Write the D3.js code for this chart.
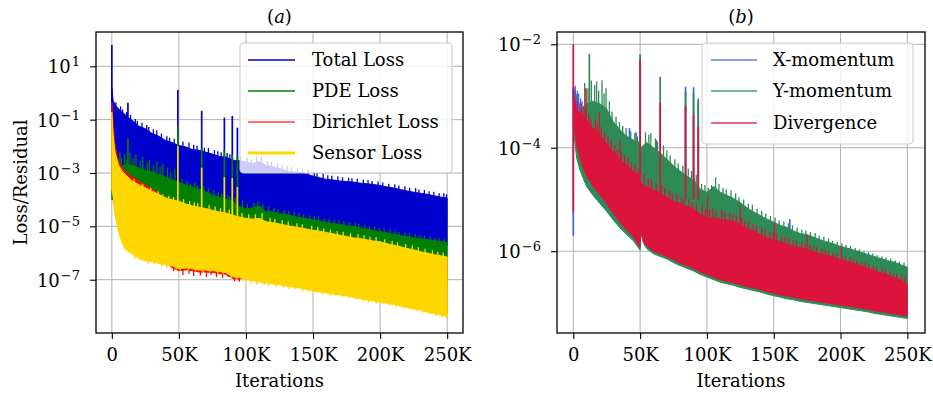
<!DOCTYPE html>
<html>
<head>
<meta charset="utf-8">
<script src="https://cdn.jsdelivr.net/npm/d3@7"></script>
<style>
  body { margin: 0; background: #fff; }
  svg { display: block; }
</style>
</head>
<body>
<svg id="chart" width="933" height="396"></svg>
<script>
// ---------------------------------------------------------------
// Training history. Iterations are in thousands; every loss value
// is stored as log10(value). Each series is described by the upper
// and lower edge of its noisy band, the short excursions along the
// band edge ("hair": [iter, value]) and isolated spikes [iter, peak, base].
// ---------------------------------------------------------------

// (a) loss terms
const ITER_A = [0,1,2.5,5,7.5,10,15,20,25,30,35,40,45,50,55,60,65,70,75,80,85,90,95,100,
  105,110,115,120,125,130,135,140,145,150,155,160,165,170,175,180,185,190,195,200,
  205,210,215,220,225,230,235,240,245,250];

const totalLossHi = [0.2,-0.3,-0.45,-0.6,-0.7,-0.82,
  -1.02,-1.24,-1.34,-1.52,-1.62,-1.78,-1.86,-1.97,
  -2.02,-2.12,-2.15,-2.22,-2.29,-2.38,-2.4,-2.52,-2.54,-2.59,
  -2.64,-2.58,-2.72,-2.76,-2.84,-2.92,-2.96,-2.99,-3.04,-3.12,
  -3.18,-3.24,-3.26,-3.3,-3.32,-3.34,-3.38,-3.4,-3.43,-3.47,
  -3.52,-3.56,-3.62,-3.67,-3.72,-3.76,-3.8,-3.85,-3.9,-3.94];
const totalLossLo = [-3.4,-3.4,-3.2,-3.0,-2.9,-2.85,
  -2.85,-2.95,-3.05,-3.1,-3.2,-3.3,-3.4,-3.5,
  -3.55,-3.62,-3.7,-3.8,-3.92,-4.0,-4.08,-4.17,-4.35,-4.45,
  -4.4,-4.33,-4.55,-4.56,-4.62,-4.65,-4.72,-4.77,-4.8,-4.86,
  -4.9,-4.96,-5.0,-5.02,-5.08,-5.1,-5.16,-5.2,-5.25,-5.3,
  -5.34,-5.4,-5.44,-5.48,-5.53,-5.56,-5.6,-5.64,-5.67,-5.7];
const totalLossHair = [[3,-0.35],[6.5,-0.5],[8,-0.62],[11,-0.72],[14,-0.82],[17.5,-0.98],[19,-1.05],
  [22.5,-1.12],[26,-1.2],[27.5,-1.28],[31,-1.36],[33.5,-1.4],[37,-1.52],[41,-1.62],[43,-1.68],
  [46.5,-1.72],[53,-1.82],[57.5,-1.86],[61,-1.95],[63.5,-1.98],[69,-2.05],[72,-2.06],[76.5,-2.14],
  [79,-2.18],[81.5,-2.22],[86,-2.25],[88,-2.3],[96,-2.38],[101,-2.44],[104,-2.48],[108,-2.4],
  [111.5,-2.38],[116,-2.55],[119,-2.58],[123.5,-2.62],[127,-2.7],[131,-2.74],[134,-2.78],
  [138.5,-2.82],[142,-2.86],[146.5,-2.88],[151,-2.95],[153,-3.0],[157.5,-3.02],[161,-3.08],
  [164,-3.1],[168.5,-3.12],[172,-3.16],[176.5,-3.18],[179,-3.2],[183,-3.22],[187.5,-3.24],
  [191,-3.26],[194,-3.3],[198.5,-3.32],[202,-3.36],[206.5,-3.4],[211,-3.42],[214,-3.47],
  [218.5,-3.5],[222,-3.55],[226.5,-3.57],[229,-3.62],[233,-3.64],[236.5,-3.68],[240,-3.7],
  [244,-3.76],[247.5,-3.76],[249.5,-3.8]];
const totalLossSpikes = [[0,1.8,-1],[12,-0.37,-1.5],[49.2,0.11,-2.5],[67,-0.67,-2.5],
  [83.9,-0.92,-3],[89.8,-0.86,-3],[93.6,-1.3,-3]];

const pdeLossHi = [-3.3,-3.2,-3.0,-2.9,-2.75,-2.7,
  -2.7,-2.8,-2.9,-2.95,-3.05,-3.15,-3.25,-3.35,
  -3.45,-3.52,-3.6,-3.7,-3.82,-3.9,-3.98,-4.07,-4.25,-4.35,
  -4.3,-4.23,-4.45,-4.46,-4.52,-4.55,-4.62,-4.67,-4.7,-4.76,
  -4.8,-4.86,-4.9,-4.92,-4.98,-5.0,-5.06,-5.1,-5.15,-5.2,
  -5.24,-5.3,-5.34,-5.38,-5.43,-5.46,-5.5,-5.54,-5.57,-5.6];
const pdeLossLo = [-4.0,-4.0,-3.9,-3.7,-3.9,-4.0,
  -4.2,-4.35,-4.5,-4.6,-4.75,-4.9,-4.95,-5.0,
  -5.1,-5.15,-5.2,-5.25,-5.3,-5.4,-5.4,-5.5,-5.55,-5.6,
  -5.65,-5.6,-5.75,-5.8,-5.85,-5.9,-5.95,-6.0,-6.0,-6.05,
  -6.1,-6.15,-6.2,-6.25,-6.3,-6.35,-6.4,-6.4,-6.45,-6.5,
  -6.55,-6.6,-6.7,-6.75,-6.8,-6.85,-6.9,-7.0,-7.0,-7.05];
const pdeLossHair = [[3.5,-2.6],[6,-2.2],[7,-2.45],[9.5,-2.3],[11,-2.5],[13.5,-2.25],[16,-2.45],
  [18,-2.3],[21,-2.55],[23,-2.4],[26.5,-2.6],[28,-2.5],[31,-2.7],[33.5,-2.55],[36,-2.75],
  [38,-2.65],[41.5,-2.8],[44,-2.95],[47,-2.85],[52,-3.22],[56,-3.3],[58.5,-3.38],[62,-3.35],
  [64,-3.45],[68.5,-3.5],[72,-3.58],[76,-3.66],[79.5,-3.72],[82,-3.78],[86.5,-3.82],[88,-3.9],
  [92,-3.92],[97.5,-4.05],[101,-4.15],[106,-4.12],[109,-4.06],[112.5,-4.15],[117,-4.25],
  [121,-4.3],[124,-4.35],[128.5,-4.38],[132,-4.42],[136,-4.45],[139.5,-4.5],[143,-4.55],
  [147.5,-4.58],[151,-4.6],[154,-4.62],[158.5,-4.7],[162,-4.72],[166,-4.75],[169.5,-4.76],
  [173,-4.8],[177,-4.85],[181.5,-4.86],[184,-4.9],[188.5,-4.94],[192,-4.98],[196,-5.0],
  [199.5,-5.05],[203,-5.08],[207.5,-5.12],[211,-5.16],[214,-5.2],[218.5,-5.22],[222,-5.26],
  [226,-5.3],[229.5,-5.32],[233,-5.35],[237.5,-5.38],[241,-5.42],[244,-5.44],[248,-5.46]];
const pdeLossSpikes = [[12,-1.7,-3],[49.2,-1.26,-4],[67,-2.06,-4],[83.9,-2.14,-4.5],
  [89.8,-2.32,-4.5],[93.6,-2.4,-4.5]];

const dirichletLossHi = [-0.35,-1.2,-2.0,-2.55,-2.8,-2.95,
  -3.15,-3.3,-3.45,-3.6,-3.78,-3.95,-4.08,-4.15,
  -4.23,-4.3,-4.35,-4.4,-4.47,-4.53,-4.57,-4.65,-4.72,-4.77,
  -4.8,-4.77,-4.9,-4.93,-4.98,-5.03,-5.08,-5.12,-5.17,-5.22,
  -5.25,-5.3,-5.35,-5.4,-5.45,-5.5,-5.53,-5.57,-5.62,-5.65,
  -5.72,-5.77,-5.83,-5.9,-5.95,-6.02,-6.07,-6.13,-6.17,-6.22];
const dirichletLossLo = [-3.5,-3.8,-4.5,-5.1,-5.5,-5.75,
  -5.95,-6.1,-6.2,-6.22,-6.3,-6.35,-6.55,-6.66,
  -6.63,-6.66,-6.71,-6.71,-6.73,-6.76,-6.8,-6.95,-6.97,-6.9,
  -6.94,-6.99,-7.02,-7.06,-7.09,-7.14,-7.17,-7.21,-7.26,-7.31,
  -7.36,-7.4,-7.44,-7.47,-7.51,-7.56,-7.61,-7.66,-7.7,-7.74,
  -7.78,-7.82,-7.88,-7.94,-7.99,-8.04,-8.11,-8.17,-8.22,-8.26];
const dirichletLossHair = [[46,-6.68],[53,-6.82],[57.5,-6.78],[61,-6.86],[66,-6.84],[70.5,-6.9],
  [74,-6.82],[78,-6.9],[82.5,-6.93],[87,-6.9],[91.5,-7.06],[95,-7.08]];
const dirichletLossSpikes = [];

const sensorLossHi = [-0.71,-1.6,-2.25,-2.7,-2.93,-3.05,
  -3.3,-3.43,-3.55,-3.68,-3.8,-3.93,-4.0,-4.06,
  -4.16,-4.23,-4.28,-4.33,-4.4,-4.46,-4.5,-4.58,-4.65,-4.7,
  -4.73,-4.7,-4.83,-4.86,-4.91,-4.96,-5.01,-5.05,-5.1,-5.15,
  -5.18,-5.23,-5.28,-5.33,-5.38,-5.43,-5.46,-5.5,-5.55,-5.58,
  -5.65,-5.7,-5.76,-5.83,-5.88,-5.95,-6.0,-6.06,-6.1,-6.15];
const sensorLossLo = [-3.6,-3.9,-4.6,-5.2,-5.6,-5.85,
  -6.04,-6.19,-6.29,-6.32,-6.39,-6.44,-6.49,-6.59,
  -6.56,-6.59,-6.64,-6.64,-6.66,-6.69,-6.74,-6.89,-6.92,-6.99,
  -7.04,-7.09,-7.12,-7.16,-7.19,-7.24,-7.27,-7.31,-7.36,-7.41,
  -7.46,-7.5,-7.54,-7.57,-7.61,-7.66,-7.71,-7.76,-7.8,-7.84,
  -7.88,-7.92,-7.98,-8.04,-8.09,-8.14,-8.21,-8.27,-8.32,-8.36];
const sensorLossHair = [[16.5,-3.22],[23,-3.4],[29,-3.55],[34.5,-3.68],[38,-3.8],[42.5,-3.85],
  [46,-3.9],[53.5,-3.98],[58,-4.05],[61.5,-4.1],[64,-4.12],[72.5,-4.2],[77,-4.26],[81,-4.32],
  [87.5,-4.38],[97,-4.5],[102,-4.55],[107,-4.55],[112,-4.5],[118,-4.68],[121.5,-4.72],
  [127,-4.76],[131.5,-4.82],[138,-4.88],[142,-4.92],[149,-4.98],[153.5,-5.02],[158,-5.08],
  [163,-5.12],[168,-5.18],[172.5,-5.2],[178,-5.26],[183.5,-5.3],[188,-5.33],[192.5,-5.38],
  [197,-5.4],[203.5,-5.48],[209,-5.55],[213,-5.6],[219,-5.66],[224,-5.72],[228.5,-5.78],
  [233.5,-5.84],[239,-5.9],[243,-5.95],[247,-5.98],
  [17,-6.22],[22,-6.3],[27,-6.4],[31.5,-6.42],[37,-6.5],[41,-6.55],[48,-6.62],[51,-6.66],
  [57,-6.66],[62.5,-6.68],[68,-6.72],[73,-6.72],[79,-6.78],[83,-6.8],[89,-6.96],[93,-7.0],
  [98,-7.08],[104,-7.14],[108,-7.18],[113.5,-7.2],[117,-7.24],[122.5,-7.27],[128,-7.3],
  [132,-7.35],[137,-7.37],[142.5,-7.42],[147,-7.46],[152,-7.5],[157,-7.56],[162.5,-7.6],
  [167,-7.63],[171.5,-7.66],[177,-7.7],[182,-7.75],[187,-7.8],[191.5,-7.85],[197,-7.9],
  [202,-7.93],[207,-7.97],[212,-8.02],[217.5,-8.08],[222,-8.13],[227,-8.18],[232,-8.24],
  [237,-8.3],[241.5,-8.36],[246,-8.4],[249.5,-8.45]];
const sensorLossSpikes = [[49.2,-2.0,-5],[67,-2.8,-5],[83.9,-3.15,-5.5],[89.8,-3.19,-5.5],[93.6,-3.52,-5.5]];

// (b) residuals of the governing equations
const ITER_B = [0,1,2.5,5,7.5,10,15,20,25,30,35,40,45,50,50.5,52.5,55,60,65,70,75,80,85,90,95,100,
  105,110,115,120,125,130,135,140,145,150,155,160,165,170,175,180,185,190,195,200,
  205,210,215,220,225,230,235,240,245,250];

const xMomentumHi = [-2.83,-2.9,-3.0,-3.2,-3.35,-3.45,
  -3.2,-3.25,-3.35,-3.6,-3.75,-3.85,-3.92,-3.97,
  -4.05,-4.0,
  -3.95,-4.05,-4.15,-4.28,-4.42,-4.5,-4.6,-4.68,-4.85,-4.92,
  -4.82,-4.92,-4.98,-5.04,-5.12,-5.22,-5.3,-5.37,-5.44,-5.5,
  -5.56,-5.6,-5.67,-5.72,-5.74,-5.79,-5.84,-5.88,-5.92,-5.97,
  -6.0,-6.04,-6.08,-6.12,-6.16,-6.2,-6.24,-6.27,-6.32,-6.37];
const xMomentumLo = [-3.0,-3.7,-4.05,-4.3,-4.48,-4.62,
  -4.82,-4.98,-5.14,-5.32,-5.48,-5.62,-5.75,-5.94,
  -5.6,-5.82,
  -5.92,-6.02,-6.07,-6.12,-6.19,-6.25,-6.3,-6.35,-6.42,-6.47,
  -6.52,-6.57,-6.6,-6.63,-6.67,-6.7,-6.73,-6.76,-6.8,-6.83,
  -6.86,-6.89,-6.91,-6.94,-6.96,-6.98,-7.0,-7.02,-7.04,-7.06,
  -7.08,-7.1,-7.12,-7.14,-7.17,-7.19,-7.21,-7.23,-7.25,-7.27];
const xMomentumHair = [[1.5,-2.8],[3,-2.9],[4,-2.95],[5.5,-3.05],[6.5,-3.1]];
const xMomentumSpikes = [[0,-2.83,-5.7],[42,-3.62,-4.5],[47,-3.7,-4.5],[62,-3.85,-4.8],
  [84,-2.82,-5],[90,-2.83,-5],[93.5,-3.05,-5],[162,-5.38,-6]];

const yMomentumHi = [-2.95,-3.1,-3.3,-3.3,-3.2,-3.15,
  -3.1,-3.15,-3.25,-3.5,-3.65,-3.78,-3.85,-3.9,
  -4.0,-3.95,
  -3.9,-4.0,-4.1,-4.22,-4.35,-4.45,-4.55,-4.62,-4.8,-4.86,
  -4.75,-4.86,-4.92,-4.98,-5.06,-5.16,-5.24,-5.31,-5.38,-5.44,
  -5.5,-5.54,-5.61,-5.66,-5.68,-5.73,-5.78,-5.82,-5.86,-5.91,
  -5.94,-5.98,-6.02,-6.06,-6.1,-6.14,-6.18,-6.21,-6.26,-6.31];
const yMomentumLo = [-3.0,-3.85,-4.2,-4.43,-4.6,-4.75,
  -4.93,-5.08,-5.23,-5.4,-5.55,-5.68,-5.8,-5.98,
  -5.63,-5.85,
  -5.95,-6.05,-6.1,-6.15,-6.22,-6.28,-6.33,-6.38,-6.45,-6.5,
  -6.55,-6.6,-6.63,-6.66,-6.7,-6.73,-6.76,-6.79,-6.83,-6.86,
  -6.89,-6.92,-6.94,-6.97,-6.99,-7.01,-7.03,-7.05,-7.07,-7.09,
  -7.11,-7.13,-7.15,-7.17,-7.2,-7.22,-7.24,-7.26,-7.28,-7.3];
const yMomentumHair = [[8.5,-2.75],[11,-2.85],[13.5,-2.7],[16,-2.78],[17.5,-2.72],[19,-2.9],
  [21.5,-2.7],[23,-2.95],[24.5,-2.85],[27,-3.1],[29,-3.3],[32,-3.4],[34.5,-3.5],[37,-3.58],
  [39.5,-3.62],[43,-3.68],[46,-3.72],[48,-3.78],[54,-3.7],[56.5,-3.75],[58,-3.72],[61.5,-3.82],
  [63,-3.88],[67.5,-3.95],[70,-4.05],[72.5,-4.15],[76,-4.22],[78.5,-4.3],[82,-4.35],[86,-4.4],
  [88.5,-4.45],[92,-4.52],[96,-4.7],[98.5,-4.72],[101,-4.78],[103.5,-4.72],[106.5,-4.57],
  [109,-4.7],[112,-4.78],[114.5,-4.8],[118,-4.82],[121.5,-4.88],[124,-4.95],[127.5,-5.0],
  [131,-5.08],[134,-5.1],[137.5,-5.18],[141,-5.22],[144,-5.27],[147.5,-5.32],[151,-5.35],
  [154,-5.4],[157.5,-5.42],[161,-5.46],[164,-5.5],[167.5,-5.54],[171,-5.58],[174,-5.6],
  [177.5,-5.63],[181,-5.65],[184,-5.7],[187.5,-5.72],[191,-5.75],[194,-5.8],[197.5,-5.82],
  [201,-5.85],[204,-5.88],[207.5,-5.9],[211,-5.94],[214,-5.96],[217.5,-6.0],[221,-6.02],
  [224,-6.05],[227.5,-6.08],[231,-6.1],[234,-6.12],[237.5,-6.14],[241,-6.18],[244,-6.2],
  [247.5,-6.22]];
const yMomentumSpikes = [[12,-2.19,-4],[50,-2.19,-5],[65,-2.63,-5],[84,-2.92,-5],
  [90,-2.95,-5],[93.5,-3.12,-5]];

const divergenceHi = [-2.95,-3.05,-3.3,-3.3,-3.35,-3.48,
  -3.63,-3.74,-3.93,-4.08,-4.23,-4.33,-4.46,-4.53,
  -4.68,-4.73,
  -4.76,-4.81,-4.88,-4.96,-5.03,-5.08,-5.13,-5.18,-5.28,-5.35,
  -5.36,-5.38,-5.4,-5.42,-5.48,-5.55,-5.61,-5.68,-5.74,-5.78,
  -5.82,-5.86,-5.9,-5.93,-5.97,-6.01,-6.05,-6.08,-6.12,-6.16,
  -6.2,-6.24,-6.28,-6.32,-6.37,-6.42,-6.46,-6.51,-6.55,-6.65];
const divergenceLo = [-2.95,-3.6,-3.95,-4.2,-4.4,-4.55,
  -4.75,-4.92,-5.08,-5.27,-5.44,-5.59,-5.72,-5.92,
  -5.58,-5.8,
  -5.9,-6.0,-6.05,-6.1,-6.17,-6.23,-6.28,-6.33,-6.4,-6.45,
  -6.5,-6.55,-6.58,-6.61,-6.65,-6.68,-6.71,-6.74,-6.78,-6.81,
  -6.84,-6.87,-6.89,-6.92,-6.94,-6.96,-6.98,-7.0,-7.02,-7.04,
  -7.06,-7.08,-7.1,-7.12,-7.15,-7.17,-7.19,-7.21,-7.23,-7.25];
const divergenceHair = [[3,-3.1],[6,-3.15],[8,-3.2],[11.5,-3.35],[13,-3.45],[16.5,-3.45],
  [18,-3.55],[19.5,-3.3],[21,-3.6],[23.5,-3.7],[26,-3.78],[28.5,-3.85],[31,-3.95],[33,-4.05],
  [35,-3.85],[36,-4.08],[38.5,-4.15],[41,-4.2],[43.5,-4.28],[46,-4.32],[48.5,-4.4],[53,-4.5],
  [56,-4.6],[58.5,-4.62],[62,-4.68],[66,-4.72],[68.5,-4.78],[72,-4.82],[74,-4.88],[77.5,-4.9],
  [81,-4.95],[83,-5.0],[86.5,-5.0],[89,-5.05],[92,-5.08],[96.5,-5.1],[99,-5.18],[100.5,-4.95],
  [102,-5.2],[104.5,-5.15],[107,-5.22],[111,-5.2],[113.5,-5.25],[117,-5.25],[119.5,-5.3],
  [122,-5.3],[125,-5.12],[126,-5.35],[128.5,-5.4],[131,-5.42],[134.5,-5.48],[137,-5.5],
  [141,-5.55],[143.5,-5.58],[147,-5.62],[149.5,-5.65],[150.5,-5.45],[152,-5.66],[156,-5.7],
  [158.5,-5.72],[161,-5.75],[164.5,-5.78],[167,-5.8],[171,-5.82],[173.5,-5.86],[175,-5.7],
  [177,-5.88],[179.5,-5.9],[182,-5.92],[186,-5.95],[188.5,-5.98],[191,-6.0],[194.5,-6.02],
  [197,-6.05],[200.5,-5.9],[201,-6.08],[203.5,-6.1],[207,-6.12],[209.5,-6.15],[212,-6.18],
  [216,-6.2],[218.5,-6.22],[221,-6.25],[224.5,-6.28],[227,-6.3],[231,-6.32],[233.5,-6.36],
  [237,-6.38],[239.5,-6.42],[242,-6.44],[246,-6.45],[248.5,-6.5]];
const divergenceSpikes = [[0,-2.0,-5.25],[9.5,-2.85,-4],[50,-2.29,-5.5],[65,-3.13,-5],
  [84,-3.19,-5],[90,-3.37,-5],[93.5,-3.6,-5]];

// axis ticks
const X_TICKS = [0, 50, 100, 150, 200, 250];
const X_TICK_LABELS = ["0", "50K", "100K", "150K", "200K", "250K"];
const Y_TICKS_A = [1, -1, -3, -5, -7];   // exponents of 10
const Y_TICKS_B = [-2, -4, -6];

// series names / colours
const NAMES_A = ["Total Loss", "PDE Loss", "Dirichlet Loss", "Sensor Loss"];
const COLORS_A = ["#0000cd", "#008000", "#ff0000", "#ffd700"];
const NAMES_B = ["X-momentum", "Y-momentum", "Divergence"];
const COLORS_B = ["#4169e1", "#2e8b57", "#dc143c"];

// ---------------------------------------------------------------
const FONT = '"DejaVu Serif", "Liberation Serif", "Times New Roman", Times, serif';
const FS = 18;
const svg = d3.select("#chart").attr("font-family", FONT);

const panels = [
  {
    id: "a", title: "a",
    left: 96, right: 463, top: 32, bottom: 333,
    xDomain: [-11.8, 261.8], yExp: [-8.998, 2.286],
    iter: ITER_A, yTicks: Y_TICKS_A, yLabel: "Loss/Residual",
    series: [
      { hi: totalLossHi, lo: totalLossLo, hair: totalLossHair, spikes: totalLossSpikes },
      { hi: pdeLossHi, lo: pdeLossLo, hair: pdeLossHair, spikes: pdeLossSpikes },
      { hi: dirichletLossHi, lo: dirichletLossLo, hair: dirichletLossHair, spikes: dirichletLossSpikes },
      { hi: sensorLossHi, lo: sensorLossLo, hair: sensorLossHair, spikes: sensorLossSpikes }
    ].map((s, i) => ({ ...s, name: NAMES_A[i], color: COLORS_A[i] })),
    legend: { x: 240, y: 43, w: 212, h: 130, rowY: [60, 91, 122, 153],
              lineX: [248, 295], textX: 312,
              lineW: [1.6, 1.6, 1.6, 3.2], lineOp: [1, 1, 0.75, 1] }
  },
  {
    id: "b", title: "b",
    left: 557, right: 925, top: 32, bottom: 333,
    xDomain: [-12.2, 263.2], yExp: [-7.581, -1.762],
    iter: ITER_B, yTicks: Y_TICKS_B, yLabel: null,
    series: [
      { hi: xMomentumHi, lo: xMomentumLo, hair: xMomentumHair, spikes: xMomentumSpikes },
      { hi: yMomentumHi, lo: yMomentumLo, hair: yMomentumHair, spikes: yMomentumSpikes },
      { hi: divergenceHi, lo: divergenceLo, hair: divergenceHair, spikes: divergenceSpikes }
    ].map((s, i) => ({ ...s, name: NAMES_B[i], color: COLORS_B[i] })),
    legend: { x: 702, y: 43, w: 211, h: 101, rowY: [60, 91, 123],
              lineX: [711, 757], textX: 773,
              lineW: [1.6, 1.6, 1.6], lineOp: [0.85, 0.85, 0.85] }
  }
];

const defs = svg.append("defs");
const pow10 = e => Math.pow(10, e);

panels.forEach(p => {
  const x = d3.scaleLinear().domain(p.xDomain).range([p.left, p.right]);
  const y = d3.scaleLog().domain(p.yExp.map(pow10)).range([p.bottom, p.top]);
  const g = svg.append("g");

  // grid
  const grid = g.append("g").attr("stroke", "#b0b0b0").attr("stroke-width", 1);
  grid.selectAll("line.gx").data(X_TICKS).join("line")
    .attr("x1", d => x(d)).attr("x2", d => x(d))
    .attr("y1", p.top).attr("y2", p.bottom);
  grid.selectAll("line.gy").data(p.yTicks).join("line")
    .attr("x1", p.left).attr("x2", p.right)
    .attr("y1", d => y(pow10(d))).attr("y2", d => y(pow10(d)));

  // data, clipped to the axes box
  defs.append("clipPath").attr("id", "clip-" + p.id)
    .append("rect").attr("x", p.left).attr("y", p.top)
    .attr("width", p.right - p.left).attr("height", p.bottom - p.top);
  const plot = g.append("g").attr("clip-path", `url(#clip-${p.id})`);

  const area = d3.area()
    .x(d => x(d.it))
    .y0(d => y(pow10(d.lo)))
    .y1(d => y(pow10(d.hi)));
  const nearest = it => d3.minIndex(p.iter, v => Math.abs(v - it));

  p.series.forEach(s => {
    const pts = p.iter.map((it, i) => ({ it, hi: s.hi[i], lo: s.lo[i] }));
    const sg = plot.append("g");
    sg.append("path")
      .attr("d", area(pts))
      .attr("fill", s.color)
      .attr("stroke", s.color)
      .attr("stroke-width", 1)
      .attr("stroke-linejoin", "round");
    // short excursions from the middle of the band out to the recorded value
    sg.append("g").selectAll("line").data(s.hair).join("line")
      .attr("x1", d => x(d[0])).attr("x2", d => x(d[0]))
      .attr("y1", d => { const k = nearest(d[0]); return y(pow10((s.hi[k] + s.lo[k]) / 2)); })
      .attr("y2", d => y(pow10(d[1])))
      .attr("stroke", s.color).attr("stroke-width", 1.3);
    sg.append("g").selectAll("line").data(s.spikes).join("line")
      .attr("x1", d => x(d[0])).attr("x2", d => x(d[0]))
      .attr("y1", d => y(pow10(d[2])))
      .attr("y2", d => y(pow10(d[1])))
      .attr("stroke", s.color).attr("stroke-width", 1.7);
  });

  // axes
  const xAxis = d3.axisBottom(x)
    .tickValues(X_TICKS)
    .tickFormat((d, i) => X_TICK_LABELS[i])
    .tickSize(6).tickPadding(7);
  const gx = g.append("g").attr("transform", `translate(0,${p.bottom})`).call(xAxis)
    .attr("font-family", FONT).attr("font-size", FS);
  gx.select(".domain").remove();
  gx.selectAll("line").attr("stroke-width", 1.1);
  gx.selectAll("text").attr("dy", "0.85em");

  const yAxis = d3.axisLeft(y)
    .tickValues(p.yTicks.map(pow10))
    .tickSize(6).tickPadding(10);
  const gy = g.append("g").attr("transform", `translate(${p.left},0)`).call(yAxis)
    .attr("font-family", FONT).attr("font-size", FS);
  gy.select(".domain").remove();
  gy.selectAll("line").attr("stroke-width", 1.1);
  gy.selectAll("text").attr("dy", "0.36em").each(function (d) {
    const e = Math.round(Math.log10(d));
    const t = d3.select(this).text(null);
    t.append("tspan").text("10");
    t.append("tspan").attr("dx", 1).attr("dy", -7).attr("font-size", 13)
      .text(String(e).replace("-", "\u2212"));
  });

  // frame
  g.append("rect")
    .attr("x", p.left).attr("y", p.top)
    .attr("width", p.right - p.left).attr("height", p.bottom - p.top)
    .attr("fill", "none").attr("stroke", "#000").attr("stroke-width", 1.3);

  // title
  const cx = (p.left + p.right) / 2;
  const title = g.append("text").attr("x", cx).attr("y", 23)
    .attr("text-anchor", "middle").attr("font-size", FS);
  title.append("tspan").text("(");
  title.append("tspan").attr("font-style", "italic").text(p.title);
  title.append("tspan").text(")");

  // x label
  g.append("text").attr("x", cx).attr("y", 387)
    .attr("text-anchor", "middle").attr("font-size", FS)
    .text("Iterations");

  // y label
  if (p.yLabel) {
    g.append("text")
      .attr("transform", `translate(27,${(p.top + p.bottom) / 2}) rotate(-90)`)
      .attr("text-anchor", "middle").attr("font-size", FS)
      .text(p.yLabel);
  }

  // legend
  const L = p.legend;
  const lg = g.append("g");
  lg.append("rect")
    .attr("x", L.x).attr("y", L.y).attr("width", L.w).attr("height", L.h)
    .attr("rx", 4).attr("ry", 4)
    .attr("fill", "#fff").attr("fill-opacity", 0.8)
    .attr("stroke", "#cccccc").attr("stroke-width", 1.1);
  p.series.forEach((s, i) => {
    lg.append("line")
      .attr("x1", L.lineX[0]).attr("x2", L.lineX[1])
      .attr("y1", L.rowY[i]).attr("y2", L.rowY[i])
      .attr("stroke", s.color).attr("stroke-width", L.lineW[i])
      .attr("stroke-opacity", L.lineOp[i]);
    lg.append("text")
      .attr("x", L.textX).attr("y", L.rowY[i] + 6)
      .attr("font-size", FS)
      .text(s.name);
  });
});

svg.selectAll("text").style("font-family", FONT).attr("fill", "#000");
</script>
</body>
</html>
